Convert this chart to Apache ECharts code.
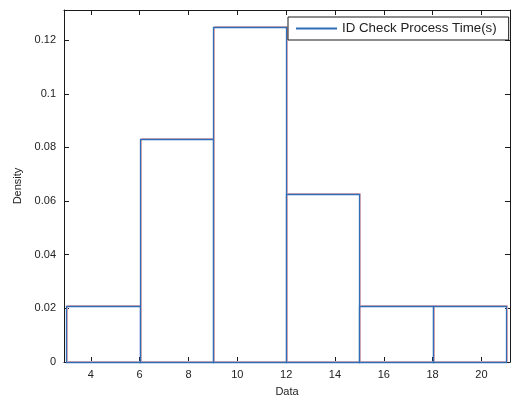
<!DOCTYPE html>
<html>
<head>
<meta charset="utf-8">
<script src="https://cdn.jsdelivr.net/npm/echarts@6/dist/echarts.min.js"></script>
<style>
  html, body { margin: 0; padding: 0; background: #fff; }
  #chart { width: 513px; height: 401px; }
</style>
</head>
<body>
<div id="chart"></div>
<script>
// histogram bins (density = count / (n * width))
var binStart = [3, 6, 9, 12, 15, 18];
var binEnd = [6, 9, 12, 15, 18, 21];
var density = [0.0208, 0.0833, 0.125, 0.0625, 0.0208, 0.0208];
var xTicks = [4, 6, 8, 10, 12, 14, 16, 18, 20];
var yTicks = [0, 0.02, 0.04, 0.06, 0.08, 0.1, 0.12];
var seriesName = 'ID Check Process Time(s)';

var blue = '#2f6db6';
var axisColor = '#1a1a1a';
var labelFont = 'Liberation Sans, Arial, sans-serif';

var bins = [];
for (var i = 0; i < binStart.length; i++) {
    bins.push([binStart[i], binEnd[i], density[i]]);
}

var myChart = echarts.init(document.getElementById('chart'));
var option = {
    animation: false,
    grid: { left: 64, right: 3, top: 10, bottom: 39, outerBoundsMode: 'none' },
    legend: {
        left: 288,
        top: 17,
        orient: 'vertical',
        padding: [5, 12, 5, 8],
        borderColor: axisColor,
        borderWidth: 1,
        backgroundColor: '#fff',
        itemWidth: 41,
        itemHeight: 2,
        icon: 'rect',
        textStyle: { fontSize: 13.3, color: '#222', fontFamily: labelFont },
        data: [seriesName]
    },
    xAxis: [{
        type: 'value',
        min: 2.9,
        max: 21.17,
        name: 'Data',
        nameLocation: 'middle',
        nameGap: 24,
        nameTextStyle: { fontSize: 11, color: '#222', fontFamily: labelFont },
        axisLine: { lineStyle: { color: axisColor } },
        axisTick: { inside: true, length: 5, customValues: xTicks, lineStyle: { color: axisColor } },
        axisLabel: { customValues: xTicks, fontSize: 11, color: '#222', margin: 7, fontFamily: labelFont },
        splitLine: { show: false }
    }, {
        type: 'value',
        position: 'top',
        min: 2.9,
        max: 21.17,
        axisLine: { show: true, onZero: false, lineStyle: { color: axisColor } },
        axisTick: { inside: true, length: 5, customValues: xTicks, lineStyle: { color: axisColor } },
        axisLabel: { show: false },
        splitLine: { show: false }
    }],
    yAxis: [{
        type: 'value',
        min: 0,
        max: 0.13125,
        name: 'Density',
        nameLocation: 'middle',
        nameGap: 40,
        nameTextStyle: { fontSize: 11, color: '#222', fontFamily: labelFont },
        axisLine: { show: true, lineStyle: { color: axisColor } },
        axisTick: { inside: true, length: 5, customValues: yTicks, lineStyle: { color: axisColor } },
        axisLabel: { customValues: yTicks, fontSize: 11, color: '#222', margin: 8, fontFamily: labelFont },
        splitLine: { show: false }
    }, {
        type: 'value',
        position: 'right',
        min: 0,
        max: 0.13125,
        axisLine: { show: true, onZero: false, lineStyle: { color: axisColor } },
        axisTick: { inside: true, length: 5, customValues: yTicks, lineStyle: { color: axisColor } },
        axisLabel: { show: false },
        splitLine: { show: false }
    }],
    series: [{
        name: seriesName,
        type: 'custom',
        xAxisIndex: 0,
        yAxisIndex: 0,
        itemStyle: { color: blue },
        data: bins,
        renderItem: function (params, api) {
            var p0 = api.coord([api.value(0), 0]);
            var p1 = api.coord([api.value(1), api.value(2)]);
            var x = Math.round(p0[0]) + 0.5, x2 = Math.round(p1[0]) + 0.5;
            var y = Math.round(p1[1]) + 0.5, y2 = Math.round(p0[1]) + 0.5;
            return {
                type: 'group',
                children: [{
                    type: 'rect',
                    shape: { x: x + 1, y: y - 1, width: x2 - x, height: y2 - y },
                    style: { fill: 'none', stroke: '#eab0b0', lineWidth: 1 }
                }, {
                    type: 'rect',
                    shape: { x: x, y: y, width: x2 - x, height: y2 - y },
                    style: { fill: 'none', stroke: blue, lineWidth: 1.3 }
                }]
            };
        }
    }]
};
myChart.setOption(option);
</script>
</body>
</html>
